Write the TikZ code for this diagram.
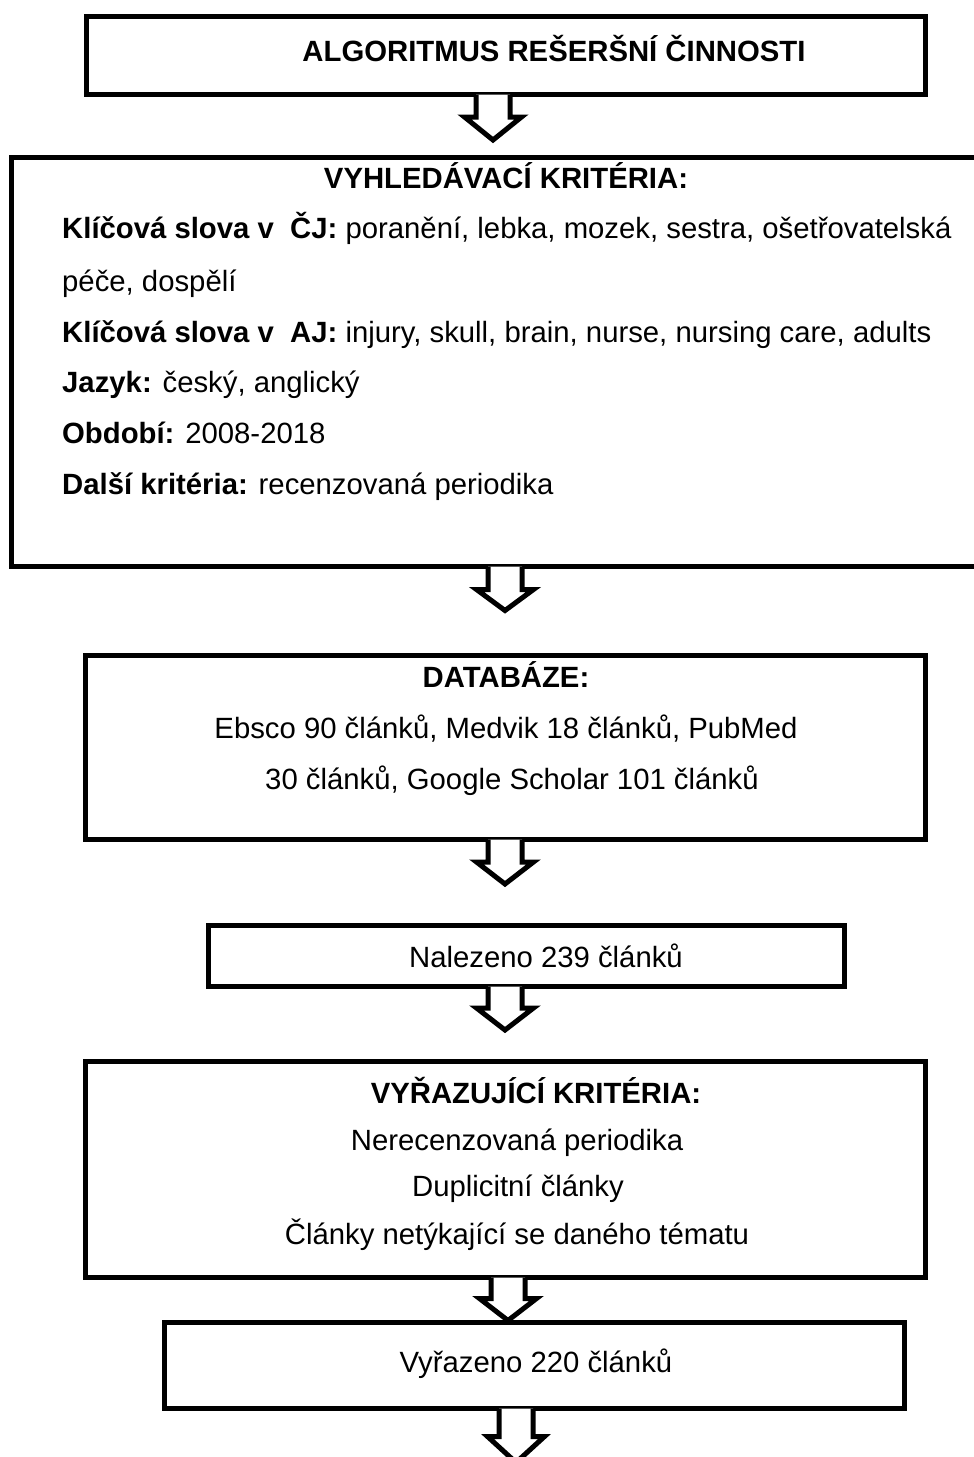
\documentclass[tikz,border=0pt]{standalone}
\usepackage{fontspec}
\setmainfont{Liberation Sans}
\usetikzlibrary{calc}
\tikzset{
  box/.style={draw, line width=5pt, inner sep=0pt, minimum width=#1},
  txt/.style={inner sep=0pt, font=\fontsize{29.3}{35}\selectfont},
  barr/.style={draw, line width=5pt, line join=miter, fill=white},
}
\newcommand\blockarr[3]{%
  \draw[barr] ($(#1)+(-17,0)$) -- ++(0,#2) -- ++(-11.5,0) -- ($(#1)+(0,{#2+#3})$)
    -- ($(#1)+(28.5,#2)$) -- ++(-11.5,0) -- ($(#1)+(17,0)$);}
\begin{document}
\begin{tikzpicture}[x=1pt,y=-1pt]
\useasboundingbox (0,0) rectangle (974,1457);
\clip (0,0) rectangle (974,1457);
% boxes
\node[box=839, minimum height=78] (b1) at (505.5,55.5) {};
\node[box=978.5, minimum height=409] (b2) at (500.75,362) {};
\node[box=840, minimum height=184] (b3) at (505.5,747.5) {};
\node[box=636, minimum height=61] (b4) at (526.5,956) {};
\node[box=840, minimum height=216] (b5) at (505.5,1169.5) {};
\node[box=740, minimum height=86] (b6) at (534.5,1365.5) {};
% arrows
\coordinate (a1) at (493,94.5);
\coordinate (a2) at (505,566.5);
\coordinate (a3) at (505,839.5);
\coordinate (a4) at (505,986.5);
\coordinate (a5) at (508,1277.5);
\coordinate (a6) at (516,1408.5);
\blockarr{a1}{22.5}{23}
\blockarr{a2}{23}{21}
\blockarr{a3}{22.5}{22}
\blockarr{a4}{21.5}{22}
\blockarr{a5}{21}{22}
\blockarr{a6}{28}{26}
% texts
\node[txt, anchor=base] (t1) at (554,61) {\textbf{ALGORITMUS REŠERŠNÍ ČINNOSTI}};
\node[txt, anchor=base] (t2) at (506,188) {\textbf{VYHLEDÁVACÍ KRITÉRIA:}};
\node[txt, anchor=base west] (l1) at (62,238) {\textbf{Klíčová slova v\ \ ČJ:} poranění, lebka, mozek, sestra, ošetřovatelská};
\node[txt, anchor=base west] (l2) at (62,291) {péče, dospělí};
\node[txt, anchor=base west] (l3) at (62,342) {\textbf{Klíčová slova v\ \ AJ:} injury, skull, brain, nurse, nursing care, adults};
\node[txt, anchor=base west] (l4) at (62,392) {\textbf{Jazyk:} český, anglický};
\node[txt, anchor=base west] (l5) at (62,443) {\textbf{Období:} 2008-2018};
\node[txt, anchor=base west] (l6) at (62,494) {\textbf{Další kritéria:} recenzovaná periodika};
\node[txt, anchor=base] (d1) at (506,687) {\textbf{DATABÁZE:}};
\node[txt, anchor=base] (d2) at (506,738) {Ebsco 90 článků, Medvik 18 článků, PubMed};
\node[txt, anchor=base] (d3) at (512,789) {30 článků, Google Scholar 101 článků};
\node[txt, anchor=base] (n1) at (546,967) {Nalezeno 239 článků};
\node[txt, anchor=base] (v1) at (536,1103) {\textbf{VYŘAZUJÍCÍ KRITÉRIA:}};
\node[txt, anchor=base] (v2) at (517,1150) {Nerecenzovaná periodika};
\node[txt, anchor=base] (v3) at (518,1196) {Duplicitní články};
\node[txt, anchor=base] (v4) at (517,1244) {Články netýkající se daného tématu};
\node[txt, anchor=base] (r1) at (536,1372) {Vyřazeno 220 článků};
\end{tikzpicture}
\end{document}
